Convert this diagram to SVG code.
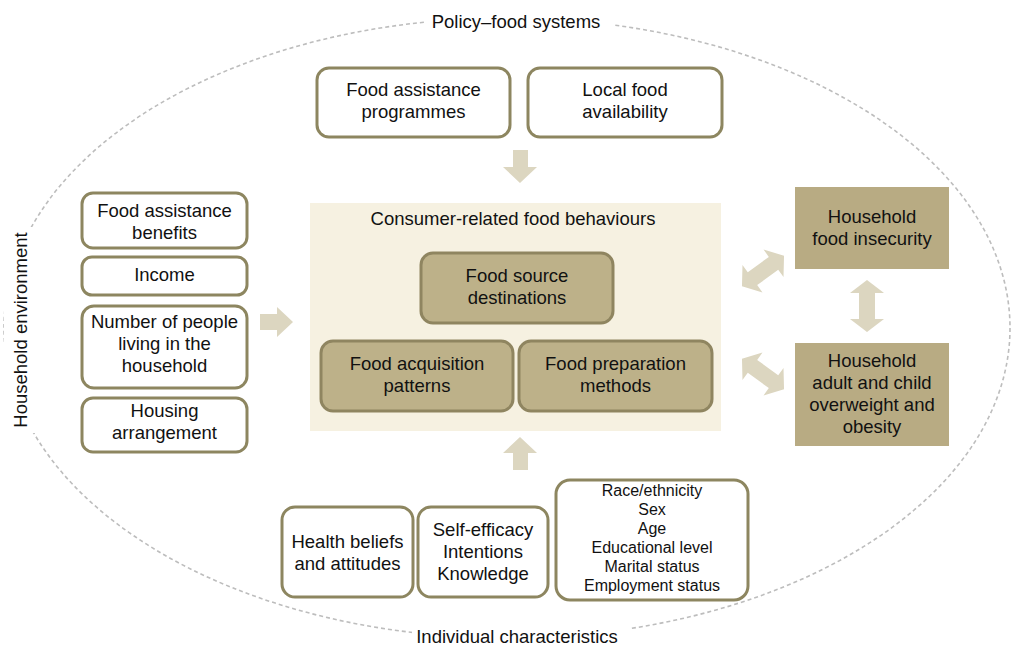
<svg xmlns="http://www.w3.org/2000/svg" width="1013" height="646" viewBox="0 0 1013 646">
<style>
text{font-family:"Liberation Sans",Arial,sans-serif;fill:#111;text-anchor:middle}
.t{font-size:18.5px}
.s{font-size:16px}
.wb{fill:#fff;stroke:#8d8660;stroke-width:3}
.bb{fill:#bdb189;stroke:#8f8560;stroke-width:3}
.db{fill:#b8ab83}
.ar{fill:#dcd6c0}
.gap{fill:#fff}
</style>
<defs>
<polygon id="dbl" points="-26,0 -13,-17 -13,-8 13,-8 13,-17 26,0 13,17 13,8 -13,8 -13,17"/>
</defs>
<rect width="1013" height="646" fill="#fff"/>
<g id="boundary">
<ellipse cx="507" cy="328" rx="503" ry="310" fill="none" stroke="#bdbdbd" stroke-width="1.6" stroke-dasharray="4 3"/>
<rect class="gap" x="425" y="4" width="188" height="32"/>
<rect class="gap" x="412" y="622" width="218" height="24"/>
<rect class="gap" x="4" y="227" width="32" height="206"/>
<text class="t" x="516" y="28">Policy–food systems</text>
<text class="t" x="517" y="643">Individual characteristics</text>
<text class="t" transform="translate(27,330) rotate(-90)">Household environment</text>
</g>
<g id="panel">
<rect x="310" y="203" width="411" height="228" fill="#f6f1e1"/>
<text class="t" x="513" y="225">Consumer-related food behaviours</text>
</g>
<g id="connectors">
<polygon class="ar" points="513,150 528,150 528,167 537,167 520,183 503,167 513,167"/>
<polygon class="ar" points="513,470 528,470 528,453 537,453 520,437 503,453 513,453"/>
<polygon class="ar" points="260,314 277,314 277,307 293,322 277,337 277,330 260,330"/>
<use href="#dbl" class="ar" transform="translate(867,306) rotate(90)"/>
<use href="#dbl" class="ar" transform="translate(763,271) rotate(-36)"/>
<use href="#dbl" class="ar" transform="translate(763,374) rotate(36)"/>
</g>
<g id="n-food-assistance-programmes">
<rect class="wb" x="317" y="68" width="193" height="69" rx="12"/>
<text class="t" x="413.5" y="96">Food assistance</text>
<text class="t" x="413.5" y="118">programmes</text>
</g>
<g id="n-local-food-availability">
<rect class="wb" x="528" y="68" width="194" height="69" rx="12"/>
<text class="t" x="625" y="96">Local food</text>
<text class="t" x="625" y="118">availability</text>
</g>
<g id="n-food-source-destinations">
<rect class="bb" x="421" y="253" width="192" height="70" rx="12"/>
<text class="t" x="517" y="282">Food source</text>
<text class="t" x="517" y="304">destinations</text>
</g>
<g id="n-food-acquisition-patterns">
<rect class="bb" x="321" y="341" width="192" height="70" rx="12"/>
<text class="t" x="417" y="370">Food acquisition</text>
<text class="t" x="417" y="392">patterns</text>
</g>
<g id="n-food-preparation-methods">
<rect class="bb" x="519" y="341" width="193" height="70" rx="12"/>
<text class="t" x="615.5" y="370">Food preparation</text>
<text class="t" x="615.5" y="392">methods</text>
</g>
<g id="n-household-food-insecurity">
<rect class="db" x="795" y="187" width="154" height="82"/>
<text class="t" x="872" y="223">Household</text>
<text class="t" x="872" y="245">food insecurity</text>
</g>
<g id="n-household-overweight-obesity">
<rect class="db" x="795" y="343" width="154" height="103"/>
<text class="t" x="872" y="367">Household</text>
<text class="t" x="872" y="389">adult and child</text>
<text class="t" x="872" y="411">overweight and</text>
<text class="t" x="872" y="433">obesity</text>
</g>
<g id="n-food-assistance-benefits">
<rect class="wb" x="82" y="193" width="165" height="55" rx="11"/>
<text class="t" x="164.5" y="217">Food assistance</text>
<text class="t" x="164.5" y="239">benefits</text>
</g>
<g id="n-income">
<rect class="wb" x="82" y="257" width="165" height="38" rx="10"/>
<text class="t" x="164.5" y="281">Income</text>
</g>
<g id="n-number-of-people">
<rect class="wb" x="82" y="306" width="165" height="82" rx="12"/>
<text class="t" x="164.5" y="328">Number of people</text>
<text class="t" x="164.5" y="350">living in the</text>
<text class="t" x="164.5" y="372">household</text>
</g>
<g id="n-housing-arrangement">
<rect class="wb" x="82" y="398" width="165" height="54" rx="11"/>
<text class="t" x="164.5" y="417">Housing</text>
<text class="t" x="164.5" y="439">arrangement</text>
</g>
<g id="n-health-beliefs">
<rect class="wb" x="282" y="507" width="131" height="90" rx="13"/>
<text class="t" x="347.5" y="548">Health beliefs</text>
<text class="t" x="347.5" y="570">and attitudes</text>
</g>
<g id="n-self-efficacy">
<rect class="wb" x="418" y="507" width="130" height="90" rx="13"/>
<text class="t" x="483" y="536">Self-efficacy</text>
<text class="t" x="483" y="558">Intentions</text>
<text class="t" x="483" y="580">Knowledge</text>
</g>
<g id="n-demographics">
<rect class="wb" x="556" y="480" width="192" height="120" rx="14"/>
<text class="s" x="652" y="496">Race/ethnicity</text>
<text class="s" x="652" y="515">Sex</text>
<text class="s" x="652" y="534">Age</text>
<text class="s" x="652" y="553">Educational level</text>
<text class="s" x="652" y="572">Marital status</text>
<text class="s" x="652" y="591">Employment status</text>
</g>
</svg>
